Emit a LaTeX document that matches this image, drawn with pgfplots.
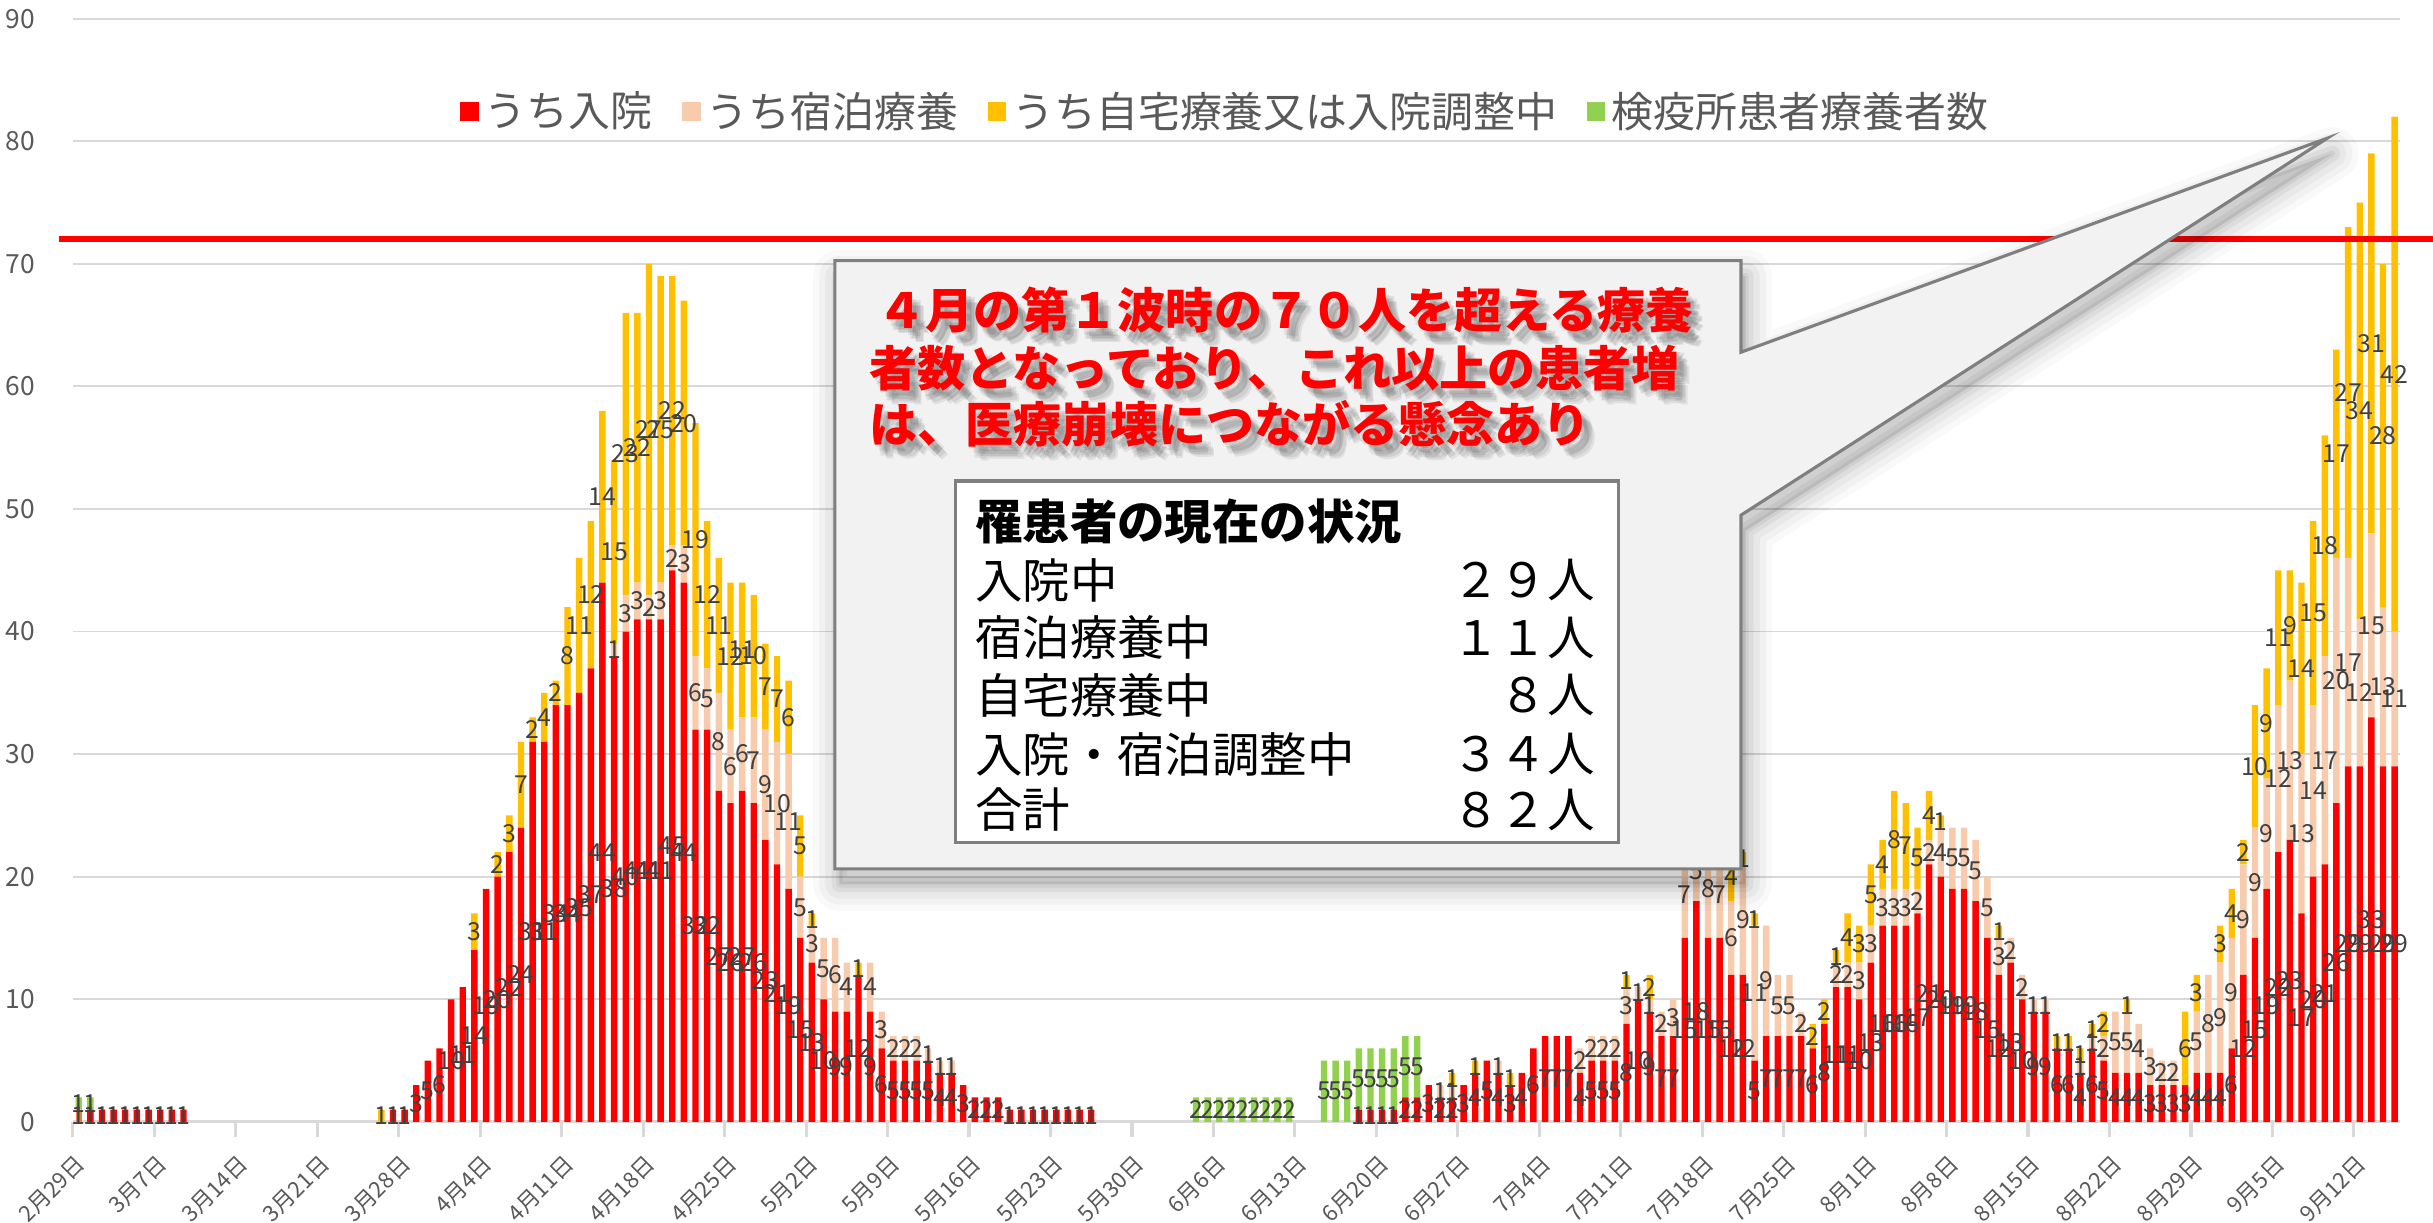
\documentclass[border=0pt]{standalone}
\usepackage{pgfplots}
\pgfplotsset{compat=1.18}
\usepackage{pgfplotstable}
\usepackage{fontspec}
\setmainfont{Noto Sans CJK JP}
\definecolor{cRed}{HTML}{FF0000}
\definecolor{cPeach}{HTML}{F8CBAD}
\definecolor{cYel}{HTML}{FFC000}
\definecolor{cGreen}{HTML}{92D050}
\definecolor{cOrange}{HTML}{ED7D31}
\definecolor{cGrid}{HTML}{D9D9D9}
\definecolor{cTxt}{HTML}{595959}
\definecolor{cLbl}{HTML}{404040}
\definecolor{cBox}{HTML}{F2F2F2}
\definecolor{cBord}{HTML}{7F7F7F}

\pgfplotstableread{
d r o p y g
0 0 1 0 0 1
1 1 0 0 0 1
2 1 0 0 0 0
3 1 0 0 0 0
4 1 0 0 0 0
5 1 0 0 0 0
6 1 0 0 0 0
7 1 0 0 0 0
8 1 0 0 0 0
9 1 0 0 0 0
10 0 0 0 0 0
11 0 0 0 0 0
12 0 0 0 0 0
13 0 0 0 0 0
14 0 0 0 0 0
15 0 0 0 0 0
16 0 0 0 0 0
17 0 0 0 0 0
18 0 0 0 0 0
19 0 0 0 0 0
20 0 0 0 0 0
21 0 0 0 0 0
22 0 0 0 0 0
23 0 0 0 0 0
24 0 0 0 0 0
25 0 0 0 0 0
26 0 0 0 1 0
27 1 0 0 0 0
28 1 0 0 0 0
29 3 0 0 0 0
30 5 0 0 0 0
31 6 0 0 0 0
32 10 0 0 0 0
33 11 0 0 0 0
34 14 0 0 3 0
35 19 0 0 0 0
36 20 0 0 2 0
37 22 0 0 3 0
38 24 0 0 7 0
39 31 0 0 2 0
40 31 0 0 4 0
41 34 0 0 2 0
42 34 0 0 8 0
43 35 0 0 11 0
44 37 0 0 12 0
45 44 0 0 14 0
46 38 0 1 15 0
47 40 0 3 23 0
48 41 0 3 22 0
49 41 0 2 27 0
50 41 0 3 25 0
51 45 0 2 22 0
52 44 0 3 20 0
53 32 0 6 19 0
54 32 0 5 12 0
55 27 0 8 11 0
56 26 0 6 12 0
57 27 0 6 11 0
58 26 0 7 10 0
59 23 0 9 7 0
60 21 0 10 7 0
61 19 0 11 6 0
62 15 0 5 5 0
63 13 0 3 1 0
64 10 0 5 0 0
65 9 0 6 0 0
66 9 0 4 0 0
67 12 0 0 1 0
68 9 0 4 0 0
69 6 0 3 0 0
70 5 0 2 0 0
71 5 0 2 0 0
72 5 0 2 0 0
73 5 0 1 0 0
74 4 0 1 0 0
75 4 0 1 0 0
76 3 0 0 0 0
77 2 0 0 0 0
78 2 0 0 0 0
79 2 0 0 0 0
80 1 0 0 0 0
81 1 0 0 0 0
82 1 0 0 0 0
83 1 0 0 0 0
84 1 0 0 0 0
85 1 0 0 0 0
86 1 0 0 0 0
87 1 0 0 0 0
88 0 0 0 0 0
89 0 0 0 0 0
90 0 0 0 0 0
91 0 0 0 0 0
92 0 0 0 0 0
93 0 0 0 0 0
94 0 0 0 0 0
95 0 0 0 0 0
96 0 0 0 0 2
97 0 0 0 0 2
98 0 0 0 0 2
99 0 0 0 0 2
100 0 0 0 0 2
101 0 0 0 0 2
102 0 0 0 0 2
103 0 0 0 0 2
104 0 0 0 0 2
105 0 0 0 0 0
106 0 0 0 0 0
107 0 0 0 0 5
108 0 0 0 0 5
109 0 0 0 0 5
110 1 0 0 0 5
111 1 0 0 0 5
112 1 0 0 0 5
113 1 0 0 0 5
114 2 0 0 0 5
115 2 0 0 0 5
116 3 0 0 0 0
117 2 0 1 0 0
118 2 0 1 1 0
119 3 0 0 0 0
120 4 0 0 1 0
121 5 0 0 0 0
122 4 0 1 0 0
123 3 0 0 1 0
124 4 0 0 0 0
125 6 0 0 0 0
126 7 0 0 0 0
127 7 0 0 0 0
128 7 0 0 0 0
129 4 0 2 0 0
130 5 0 2 0 0
131 5 0 2 0 0
132 5 0 2 0 0
133 8 0 3 1 0
134 10 0 1 0 0
135 9 0 1 2 0
136 7 0 2 0 0
137 7 0 3 0 0
138 15 0 7 0 0
139 18 0 5 0 0
140 15 0 8 0 0
141 15 0 7 0 0
142 12 0 6 4 0
143 12 0 9 1 0
144 5 0 11 1 0
145 7 0 9 0 0
146 7 0 5 0 0
147 7 0 5 0 0
148 7 0 2 0 0
149 6 0 0 2 0
150 8 0 0 2 0
151 11 0 2 1 0
152 11 0 2 4 0
153 10 0 3 3 0
154 13 0 3 5 0
155 16 0 3 4 0
156 16 0 3 8 0
157 16 0 3 7 0
158 17 0 2 5 0
159 21 0 2 4 0
160 20 0 4 1 0
161 19 0 5 0 0
162 19 0 5 0 0
163 18 0 5 0 0
164 15 0 5 0 0
165 12 0 3 1 0
166 13 0 2 0 0
167 10 0 2 0 0
168 9 0 1 0 0
169 9 0 1 0 0
170 6 0 0 1 0
171 6 0 0 1 0
172 4 0 1 1 0
173 6 0 1 1 0
174 5 0 2 2 0
175 4 0 5 0 0
176 4 0 5 1 0
177 4 0 4 0 0
178 3 0 3 0 0
179 3 0 2 0 0
180 3 0 2 0 0
181 3 0 0 6 0
182 4 0 5 3 0
183 4 0 8 0 0
184 4 0 9 3 0
185 6 0 9 4 0
186 12 0 9 2 0
187 15 0 9 10 0
188 19 0 9 9 0
189 22 0 12 11 0
190 23 0 13 9 0
191 17 0 13 14 0
192 20 0 14 15 0
193 21 0 17 18 0
194 26 0 20 17 0
195 29 0 17 27 0
196 29 0 12 34 0
197 33 0 15 31 0
198 29 0 13 28 0
199 29 0 11 42 0
}\data

\pgfplotsset{
  commonaxis/.style={
    at={(23.5pt,32.5pt)}, anchor=south west,
    scale only axis, width=750pt, height=355.5pt,
    xmin=-0.5, xmax=199.5, ymin=0, ymax=90,
    /pgf/number format/assume math mode=true,
  },
  lbl/.style={draw=none, mark=none, point meta=explicit, nodes near coords,
    every node near coord/.style={anchor=center, font=\fontsize{8}{8}\selectfont, text=cLbl, inner sep=0pt}},
}

\begin{document}
\begin{tikzpicture}
\useasboundingbox (0,0) rectangle (784pt,394pt);
\begin{axis}[commonaxis,
  ybar stacked, bar width=0.55,
  axis lines*=left,
  x axis line style={cGrid, line width=1pt},
  y axis line style={draw=none},
  ytick={0,10,...,90},
  ytick style={draw=none},
  ymajorgrids, grid style={cGrid, line width=0.6pt},
  yticklabel style={font=\fontsize{8.5}{8.5}\selectfont, text=cTxt, xshift=-3.7pt},
  xtick={-0.5,6.5,...,195.5},
  xticklabels={2月29日,3月7日,3月14日,3月21日,3月28日,4月4日,4月11日,4月18日,4月25日,5月2日,5月9日,5月16日,5月23日,5月30日,6月6日,6月13日,6月20日,6月27日,7月4日,7月11日,7月18日,7月25日,8月1日,8月8日,8月15日,8月22日,8月29日,9月5日,9月12日},
  xticklabel style={xshift=2.7pt, yshift=-7.2pt, rotate=45, anchor=east, inner sep=0pt, font=\fontsize{7.2}{7.2}\selectfont, text=cTxt},
  tick align=outside, major tick length=5pt,
  xtick style={cGrid, line width=1pt},
  legend style={at={(0.496,0.9156)}, anchor=center, draw=none, fill=none,
    legend columns=-1, font=\fontsize{13.5}{14}\selectfont, text=cTxt,
    /tikz/every even column/.append style={column sep=7.5pt}},
  legend image code/.code={\fill[#1] (0pt,-3pt) rectangle (6pt,3pt);},
]
\addplot[fill=cRed, draw=none] table[x=d, y=r]{\data};
\addlegendentry{うち入院}
\addplot[fill=cOrange, draw=none, forget plot] table[x=d, y=o]{\data};
\addplot[fill=cPeach, draw=none] table[x=d, y=p]{\data};
\addlegendentry{うち宿泊療養}
\addplot[fill=cYel, draw=none] table[x=d, y=y]{\data};
\addlegendentry{うち自宅療養又は入院調整中}
\addplot[fill=cGreen, draw=none] table[x=d, y=g]{\data};
\addlegendentry{検疫所患者療養者数}
\end{axis}

\begin{axis}[commonaxis, hide axis, clip=false]
\addplot[lbl, restrict expr to domain={\thisrow{r}}{0.5:1000}] table[x=d, y expr=\thisrow{r}/2, meta=r]{\data};
\addplot[lbl, restrict expr to domain={\thisrow{o}}{0.5:1000}] table[x=d, y expr=\thisrow{r}+\thisrow{o}/2, meta=o]{\data};
\addplot[lbl, restrict expr to domain={\thisrow{p}}{0.5:1000}] table[x=d, y expr=\thisrow{r}+\thisrow{o}+\thisrow{p}/2, meta=p]{\data};
\addplot[lbl, restrict expr to domain={\thisrow{y}}{0.5:1000}] table[x=d, y expr=\thisrow{r}+\thisrow{o}+\thisrow{p}+\thisrow{y}/2, meta=y]{\data};
\addplot[lbl, restrict expr to domain={\thisrow{g}}{0.5:1000}] table[x=d, y expr=\thisrow{r}+\thisrow{o}+\thisrow{p}+\thisrow{y}+\thisrow{g}/2, meta=g]{\data};
\addplot[cRed, line width=2pt] coordinates {(-1.7,72) (205,72)};
\end{axis}

\begin{scope}[shift={(0pt,394pt)}, x=0.5pt, y=-0.5pt]
\def\callout{(538,168) -- (1122,168) -- (1122,227) -- (1500,89) -- (1122,332) -- (1122,560) -- (538,560) -- cycle}
\begin{scope}[shift={(3,10)}]
\foreach \w/\o in {34/0.025,26/0.03,18/0.04,10/0.05,4/0.06}{
  \draw[black, opacity=\o, line width=\w*0.5pt, line join=round] \callout;
}
\fill[black, opacity=0.1] \callout;
\end{scope}
\fill[cBox] \callout;
\draw[cBord, line width=1pt, line join=miter] \callout;
% red text with soft shadow
\foreach \dx/\dy in {3/4,5/6,7/8,4/7,6/5,8/9}{
  \begin{scope}[shift={(\dx,\dy)}]
  \node[anchor=west, inner sep=0pt, text=black, opacity=0.07, font=\bfseries\fontsize{15.5}{15.5}\selectfont] at (565,200) {４月の第１波時の７０人を超える療養};
  \node[anchor=west, inner sep=0pt, text=black, opacity=0.07, font=\bfseries\fontsize{15.5}{15.5}\selectfont] at (560,237) {者数となっており、これ以上の患者増};
  \node[anchor=west, inner sep=0pt, text=black, opacity=0.07, font=\bfseries\fontsize{15.5}{15.5}\selectfont] at (560,273) {は、医療崩壊につながる懸念あり};
  \end{scope}
}
\node[anchor=west, inner sep=0pt, text=cRed, font=\bfseries\fontsize{15.5}{15.5}\selectfont] at (565,200) {４月の第１波時の７０人を超える療養};
\node[anchor=west, inner sep=0pt, text=cRed, font=\bfseries\fontsize{15.5}{15.5}\selectfont] at (560,237) {者数となっており、これ以上の患者増};
\node[anchor=west, inner sep=0pt, text=cRed, font=\bfseries\fontsize{15.5}{15.5}\selectfont] at (560,273) {は、医療崩壊につながる懸念あり};
% table box
\fill[white] (616,310) rectangle (1043,543);
\draw[cBord, line width=1pt] (616,310) rectangle (1043,543);
\node[anchor=west, inner sep=0pt, font=\bfseries\fontsize{15.3}{15.3}\selectfont] at (628,336) {罹患者の現在の状況};
\foreach \yy/\a/\b in {374/入院中/２９人, 411/宿泊療養中/１１人, 448/自宅療養中/８人, 486/入院・宿泊調整中/３４人, 522/合計/８２人}{
  \node[anchor=west, inner sep=0pt, font=\fontsize{15.3}{15.3}\selectfont] at (628,\yy) {\a};
  \node[anchor=east, inner sep=0pt, font=\fontsize{15.3}{15.3}\selectfont] at (1028,\yy) {\b};
}
\end{scope}
\end{tikzpicture}
\end{document}
